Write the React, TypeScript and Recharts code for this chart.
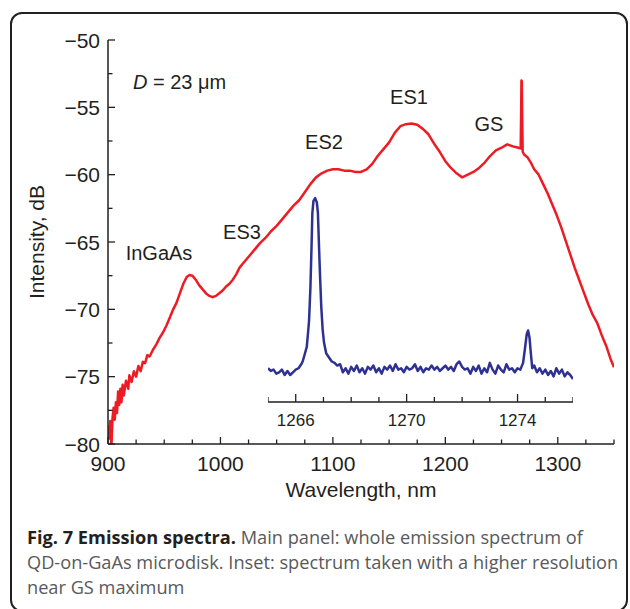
import React from "react";
import { LineChart, Line, XAxis, YAxis, Label } from "recharts";

// main spectrum
const mainWavelength = [
  900, 901, 902, 903, 904, 905, 906, 907, 908, 909, 910, 911, 912, 913, 914, 916, 918, 919, 921, 923,
  925, 927, 929, 931, 933, 935, 937, 940, 943, 946, 949, 952, 955, 958, 961, 964, 967, 970, 972.5, 975,
  978, 981, 984, 987, 990, 993, 996, 999, 1002, 1005, 1008, 1011, 1014, 1017, 1020, 1023, 1026, 1030,
  1035, 1040, 1045, 1050, 1055, 1060, 1065, 1070, 1075, 1080, 1085, 1090, 1095, 1100, 1105, 1110, 1115,
  1120, 1125, 1130, 1135, 1140, 1145, 1150, 1155, 1160, 1165, 1170, 1175, 1180, 1185, 1190, 1195, 1200,
  1205, 1210, 1215, 1220, 1225, 1230, 1235, 1240, 1245, 1250, 1255, 1260, 1265, 1267, 1267.4, 1267.7,
  1268, 1268.4, 1268.8, 1270, 1273, 1276, 1279, 1283, 1287, 1291, 1295, 1299, 1303, 1307, 1311, 1315,
  1319, 1323, 1327, 1331, 1335, 1339, 1343, 1347, 1350,
];
const mainIntensity = [
  -78.6, -79.6, -78.3, -80.3, -78.1, -77.3, -78.2, -76.9, -77.7, -76.1, -77.1, -75.9, -76.9, -75.6, -76.4,
  -75.3, -75.9, -74.9, -75.4, -74.6, -75.0, -74.2, -74.6, -73.9, -74.0, -73.4, -73.5, -73.0, -72.6, -72.1,
  -71.7, -71.2, -70.6, -70.0, -69.5, -68.8, -68.1, -67.6, -67.45, -67.5, -67.8, -68.2, -68.5, -68.8, -69.0,
  -69.1, -69.0, -68.8, -68.6, -68.3, -68.1, -67.8, -67.4, -66.9, -66.6, -66.3, -66.0, -65.6, -65.1, -64.7,
  -64.2, -63.8, -63.3, -62.8, -62.3, -61.9, -61.3, -60.7, -60.2, -59.9, -59.7, -59.6, -59.6, -59.7, -59.7,
  -59.8, -59.8, -59.6, -59.2, -58.6, -58.1, -57.6, -56.9, -56.4, -56.25, -56.2, -56.3, -56.6, -57.0, -57.7,
  -58.3, -59.0, -59.5, -59.9, -60.2, -60.0, -59.8, -59.5, -59.1, -58.6, -58.2, -58.0, -57.75, -57.9, -58.0,
  -58.05, -55.5, -53.0, -53.1, -56.0, -58.3, -58.5, -58.7, -59.1, -59.6, -60.0, -60.7, -61.4, -62.2, -63.0,
  -63.9, -64.9, -65.9, -66.9, -67.8, -68.7, -69.6, -70.4, -71.0, -71.9, -72.7, -73.7, -74.3,
];

// inset: high resolution scan near GS
const insetWavelength = [
  1265.0, 1265.1, 1265.2, 1265.3, 1265.4, 1265.5, 1265.6, 1265.7, 1265.8, 1265.9, 1266.0, 1266.1, 1266.2,
  1266.25, 1266.32, 1266.4, 1266.48, 1266.53, 1266.57, 1266.6, 1266.64, 1266.7, 1266.76, 1266.8, 1266.84,
  1266.88, 1266.92, 1266.97, 1267.02, 1267.1, 1267.2, 1267.3, 1267.4, 1267.5, 1267.6, 1267.7, 1267.8,
  1267.9, 1268.0, 1268.1, 1268.2, 1268.3, 1268.4, 1268.5, 1268.6, 1268.7, 1268.8, 1268.9, 1269.0, 1269.1,
  1269.2, 1269.3, 1269.4, 1269.5, 1269.6, 1269.7, 1269.8, 1269.9, 1270.0, 1270.1, 1270.2, 1270.3, 1270.4,
  1270.5, 1270.6, 1270.7, 1270.8, 1270.9, 1271.0, 1271.1, 1271.2, 1271.3, 1271.4, 1271.5, 1271.6, 1271.7,
  1271.8, 1271.9, 1272.0, 1272.1, 1272.2, 1272.3, 1272.4, 1272.5, 1272.6, 1272.7, 1272.8, 1272.9, 1273.0,
  1273.1, 1273.2, 1273.3, 1273.4, 1273.5, 1273.6, 1273.7, 1273.8, 1273.9, 1274.0, 1274.1, 1274.2, 1274.27,
  1274.33, 1274.38, 1274.43, 1274.48, 1274.53, 1274.6, 1274.7, 1274.8, 1274.9, 1275.0, 1275.1, 1275.2,
  1275.3, 1275.4, 1275.5, 1275.6, 1275.7, 1275.8, 1275.9, 1276.0,
];
const insetIntensity = [
  -74.5, -74.7, -74.6, -74.9, -74.8, -74.6, -75.0, -74.7, -75.0, -74.8, -74.6, -74.5, -74.2,
  -74.0, -73.5, -72.9, -71.0, -68.5, -65.5, -63.0, -62.1, -61.9, -62.2, -63.0, -65.5,
  -67.8, -69.9, -71.6, -72.6, -73.4, -73.7, -74.0, -74.1, -74.3, -74.2, -74.8, -74.5,
  -74.9, -74.4, -74.7, -74.3, -74.8, -74.5, -74.9, -74.4, -74.6, -74.3, -74.8, -74.5, -74.9,
  -74.4, -74.6, -74.3, -74.7, -74.2, -74.6, -74.5, -74.8, -74.4, -74.6, -74.5, -74.2, -74.7,
  -74.4, -74.8, -74.5, -74.6, -74.3, -74.6, -74.4, -74.7, -74.5, -74.3, -74.6, -74.4, -74.7,
  -74.2, -74.0, -74.4, -74.6, -74.5, -74.9, -74.4, -74.7, -74.3, -74.9, -74.5, -74.8, -74.1,
  -74.6, -74.9, -74.3, -74.6, -74.8, -74.2, -74.6, -74.5, -74.8, -74.5, -74.6, -74.1, -73.0,
  -72.0, -71.7, -72.2, -73.4, -74.5, -74.3, -74.8, -74.5, -74.9, -74.6, -75.0, -74.7,
  -75.1, -74.5, -74.9, -74.6, -75.1, -74.8, -75.0, -75.3,
];

const mainXTicks = [900, 925, 950, 975, 1000, 1025, 1050, 1075, 1100, 1125, 1150, 1175, 1200, 1225, 1250, 1275, 1300, 1325, 1350];
const mainYTicks = [-80, -77.5, -75, -72.5, -70, -67.5, -65, -62.5, -60, -57.5, -55, -52.5, -50];
const insetXTicks = [1265, 1266, 1267, 1268, 1269, 1270, 1271, 1272, 1273, 1274, 1275, 1276];
const insetXLabels = [1266, 1270, 1274];

const mainData = mainWavelength.map((x, i) => ({ x, y: mainIntensity[i] }));
const insetData = insetWavelength.map((x, i) => ({ x, y: insetIntensity[i] }));

const INK = "#231f20";
const FONT = "Arial, 'Liberation Sans', Helvetica, sans-serif";
const fmt = (v: number) => (v < 0 ? `\u2212${Math.abs(v)}` : `${v}`);

function LeftTick({ x, y, payload }: any) {
  const major = payload.value % 5 === 0;
  return (
    <g>
      <line x1={x} x2={x + (major ? 7 : 4.5)} y1={y} y2={y} stroke={INK} strokeWidth={1.3} />
      {major && (
        <text x={x - 8} y={y} dy="0.36em" textAnchor="end" fontSize={21} fill={INK} fontFamily={FONT}>
          {fmt(payload.value)}
        </text>
      )}
    </g>
  );
}

function RightTick({ x, y, payload }: any) {
  const major = payload.value % 5 === 0;
  return <line x1={x} x2={x - (major ? 7 : 4.5)} y1={y} y2={y} stroke={INK} strokeWidth={1.3} />;
}

function BottomTick({ x, y, payload }: any) {
  const major = payload.value % 100 === 0;
  return (
    <g>
      <line x1={x} x2={x} y1={y} y2={y - (major ? 7 : 4.5)} stroke={INK} strokeWidth={1.3} />
      {major && (
        <text x={x} y={y + 19} dy="0.36em" textAnchor="middle" fontSize={21} fill={INK} fontFamily={FONT}>
          {payload.value}
        </text>
      )}
    </g>
  );
}

function TopTick({ x, y, payload }: any) {
  const major = payload.value % 100 === 0;
  return <line x1={x} x2={x} y1={y} y2={y + (major ? 7 : 4.5)} stroke={INK} strokeWidth={1.3} />;
}

function InsetTick({ x, y, payload }: any) {
  const major = insetXLabels.includes(payload.value);
  return (
    <g>
      <line x1={x} x2={x} y1={y} y2={y - (major ? 8 : 5)} stroke={INK} strokeWidth={1.3} />
      {major && (
        <text x={x} y={y + 17.5} dy="0.36em" textAnchor="middle" fontSize={17} fill={INK} fontFamily={FONT}>
          {payload.value}
        </text>
      )}
    </g>
  );
}

const note: React.CSSProperties = {
  position: "absolute",
  fontFamily: FONT,
  fontSize: 20,
  lineHeight: 1,
  color: INK,
  whiteSpace: "nowrap",
  transform: "translate(-50%, -50%)",
};

export default function App() {
  return (
    <div style={{ position: "absolute", left: 0, top: 0, width: 630, height: 609, background: "#fff", overflow: "hidden" }}>
      <div
        style={{
          position: "absolute",
          left: 10,
          top: 12,
          width: 618,
          height: 600,
          border: `2px solid ${INK}`,
          borderRadius: 12,
          boxSizing: "border-box",
        }}
      />

      <div style={{ position: "absolute", left: 0, top: 0 }}>
        <LineChart width={630} height={520} data={mainData} margin={{ top: 40, right: 16, bottom: 0, left: 0 }}>
          <XAxis
            type="number"
            dataKey="x"
            domain={[900, 1350]}
            ticks={mainXTicks}
            interval={0}
            allowDataOverflow
            height={76}
            tickSize={0}
            tickMargin={0}
            tickLine={false}
            tick={<BottomTick />}
            axisLine={{ stroke: INK, strokeWidth: 1.5 }}
          >
            <Label value="Wavelength, nm" position="insideBottom" offset={23} fontSize={21} fill={INK} fontFamily={FONT} />
          </XAxis>
          <XAxis
            xAxisId="top"
            orientation="top"
            type="number"
            domain={[900, 1350]}
            ticks={mainXTicks}
            interval={0}
            height={0}
            tickSize={0}
            tickMargin={0}
            tickLine={false}
            tick={<TopTick />}
            axisLine={{ stroke: INK, strokeWidth: 1.5 }}
          />
          <YAxis
            type="number"
            domain={[-80, -50]}
            ticks={mainYTicks}
            interval={0}
            allowDataOverflow
            width={108}
            tickSize={0}
            tickMargin={0}
            tickLine={false}
            tick={<LeftTick />}
            axisLine={{ stroke: INK, strokeWidth: 1.5 }}
          >
            <Label
              value="Intensity, dB"
              angle={-90}
              position="insideLeft"
              offset={37}
              fontSize={21}
              fill={INK}
              fontFamily={FONT}
              style={{ textAnchor: "middle" }}
            />
          </YAxis>
          <YAxis
            yAxisId="right"
            orientation="right"
            type="number"
            domain={[-80, -50]}
            ticks={mainYTicks}
            interval={0}
            width={0}
            tickSize={0}
            tickMargin={0}
            tickLine={false}
            tick={<RightTick />}
            axisLine={{ stroke: INK, strokeWidth: 1.5 }}
          />
          <Line
            type="linear"
            dataKey="y"
            stroke="#ed1c24"
            strokeWidth={2.5}
            strokeLinejoin="round"
            dot={false}
            isAnimationActive={false}
          />
        </LineChart>
      </div>

      {/* inset */}
      <div style={{ position: "absolute", left: 268, top: 186 }}>
        <LineChart width={305} height={246} data={insetData} margin={{ top: 0, right: 0, bottom: 0, left: 0 }}>
          <XAxis
            type="number"
            dataKey="x"
            domain={[1265, 1276]}
            ticks={insetXTicks}
            interval={0}
            allowDataOverflow
            height={30}
            tickSize={0}
            tickMargin={0}
            tickLine={false}
            tick={<InsetTick />}
            axisLine={{ stroke: INK, strokeWidth: 1.5 }}
          />
          <YAxis type="number" domain={[-77, -61]} allowDataOverflow hide />
          <Line
            type="linear"
            dataKey="y"
            stroke="#2e3192"
            strokeWidth={2.5}
            strokeLinejoin="round"
            dot={false}
            isAnimationActive={false}
          />
        </LineChart>
      </div>

      <div style={{ ...note, left: 133, top: 82, transform: "translate(0, -50%)" }}>
        <span style={{ fontStyle: "italic" }}>D</span> = 23 μm
      </div>
      <div style={{ ...note, left: 409, top: 97 }}>ES1</div>
      <div style={{ ...note, left: 489, top: 124 }}>GS</div>
      <div style={{ ...note, left: 324, top: 142 }}>ES2</div>
      <div style={{ ...note, left: 242, top: 232 }}>ES3</div>
      <div style={{ ...note, left: 159, top: 253 }}>InGaAs</div>

      <div
        style={{
          position: "absolute",
          left: 27,
          top: 525,
          fontFamily: "'Open Sans', 'Noto Sans', sans-serif",
          fontSize: 18.2,
          lineHeight: "25px",
          color: "#58595b",
          whiteSpace: "nowrap",
        }}
      >
        <b style={{ color: INK }}>Fig. 7 Emission spectra.</b> Main panel: whole emission spectrum of
        <br />
        QD-on-GaAs microdisk. Inset: spectrum taken with a higher resolution
        <br />
        near GS maximum
      </div>
    </div>
  );
}
